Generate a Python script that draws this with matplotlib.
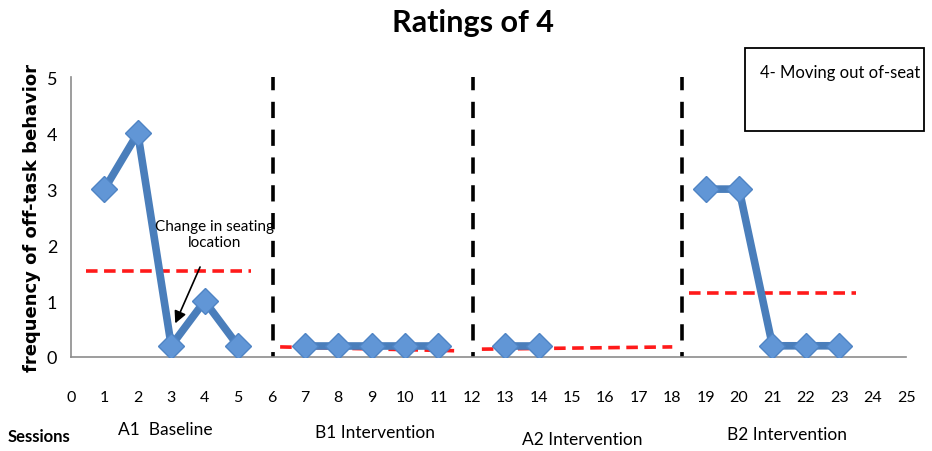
## ratings of behaviour 4 across ABAB phases

import numpy as np
import matplotlib
matplotlib.use("Agg")
import matplotlib.pyplot as plt
from matplotlib.patches import Rectangle
from matplotlib import rcParams

rcParams['font.family'] = ['Lato', 'DejaVu Sans']

# session data per phase (zero sessions are plotted slightly above the axis, as in the original)
a1_x = [1, 2, 3, 4, 5]
a1_y = [3, 4, 0.2, 1, 0.2]
b1_x = [7, 8, 9, 10, 11]
b1_y = [0.2, 0.2, 0.2, 0.2, 0.2]
a2_x = [13, 14]
a2_y = [0.2, 0.2]
b2_x = [19, 20, 21, 22, 23]
b2_y = [3, 3, 0.2, 0.2, 0.2]

# trend lines: (x start, x end), (y start, y end)
trend_x = [[0.45, 5.4], [6.26, 11.6], [12.3, 18.0], [18.5, 23.5]]
trend_y = [[1.54, 1.54], [0.18, 0.11], [0.14, 0.18], [1.14, 1.14]]

phase_changes = [6.05, 12.03, 18.3]
phase_labels = ["A1  Baseline", "B1 Intervention", "A2 Intervention", "B2 Intervention"]
x_ticks = list(range(0, 26))
y_ticks = [0, 1, 2, 3, 4, 5]

fig = plt.figure(figsize=(9.32, 4.52), dpi=100)
ax = fig.add_axes([0.0762, 0.208, 0.896, 0.619])

for xs, ys in zip(trend_x, trend_y):
    ax.plot(xs, ys, color="#FF1A1A", lw=2.6, dashes=(3.2, 1.8), zorder=2)

# phase change lines, drawn top-down so the dash pattern starts at the top
for xc in phase_changes:
    ax.plot([xc, xc], [5.05, 0], color="black", lw=2.6, dashes=(4.5, 3.2), zorder=1)

for xs, ys in [(a1_x, a1_y), (b1_x, b1_y), (a2_x, a2_y), (b2_x, b2_y)]:
    ax.plot(xs, ys, color="#4A7EBB", lw=5.5, marker="D", ms=13,
            markerfacecolor="#6196D6", markeredgecolor="#4F84C4", markeredgewidth=1,
            zorder=3, solid_capstyle="round")

ax.set_xlim(0, 25)
ax.set_ylim(0, 5)
ax.set_xticks(x_ticks)
ax.set_xticklabels([str(t) for t in x_ticks])
ax.set_yticks(y_ticks)
ax.set_yticklabels([str(t) for t in y_ticks])
ax.tick_params(axis="x", length=0, pad=24, labelsize=11.5)
ax.tick_params(axis="y", length=0, pad=10, labelsize=13)
for s in ["top", "right"]:
    ax.spines[s].set_visible(False)
for s in ["left", "bottom"]:
    ax.spines[s].set_color("#8C8C8C")
    ax.spines[s].set_linewidth(1.2)

ax.set_ylabel("frequency of off-task behavior", fontsize=13, fontweight="bold",
              family="DejaVu Sans", labelpad=4)

ax.annotate("Change in seating\nlocation", xy=(3.12, 0.6), xytext=(4.3, 2.2),
            ha="center", va="center", fontsize=11, stretch="condensed",
            arrowprops=dict(arrowstyle="-|>", color="black", lw=1.2, mutation_scale=18,
                            shrinkA=12, shrinkB=0))

fig.text(0.508, 0.95, "Ratings of 4", ha="center", va="center", fontsize=22, fontweight="bold")

fig.patches.append(Rectangle((745 / 932, 1 - 132 / 452), 179 / 932, 83 / 452,
                             transform=fig.transFigure, fill=False, edgecolor="black", lw=1.3))
fig.text(760 / 932, 1 - 73 / 452, "4- Moving out of-seat", ha="left", va="center", fontsize=12)

fig.text(8 / 932, 1 - 437 / 452, "Sessions", ha="left", va="center", fontsize=12, fontweight="bold")
label_pos = [(165, 430), (375, 433), (582, 440), (787, 435)]
for lab, (px, py) in zip(phase_labels, label_pos):
    fig.text(px / 932, 1 - py / 452, lab, ha="center", va="center", fontsize=12.5)

fig.savefig("out.png", dpi=100)
